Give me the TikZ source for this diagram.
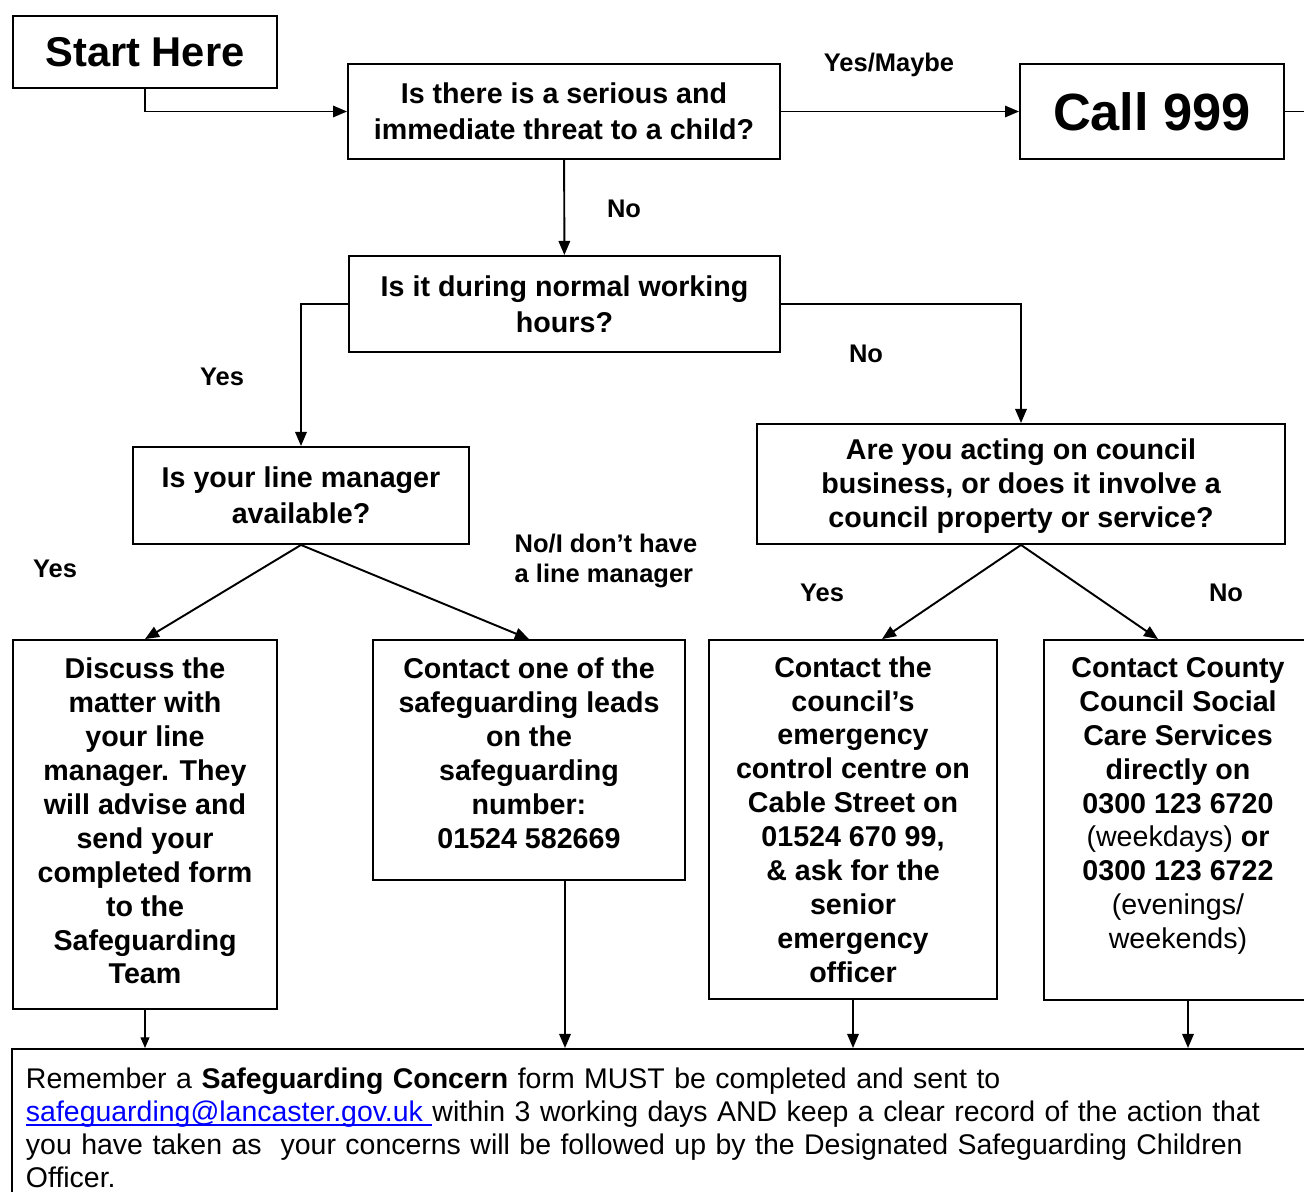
\documentclass[tikz,border=0pt]{standalone}
\usepackage{fontspec}
\setmainfont{Liberation Sans}
\usetikzlibrary{arrows.meta,calc}
\newcommand{\linkline}[1]{\setbox0\hbox{#1}\rlap{\rule[-2.4pt]{\wd0}{0.8pt}}\box0}

\begin{document}
\begin{tikzpicture}[->,>={Triangle[length=8pt,width=6.5pt]},x=0.02cm,y=-0.02cm,line width=1.1pt,
    box/.style={shape=rectangle,draw=black,align=center,inner sep=0pt,font=\fontsize{16.3}{19.3}\selectfont\bfseries},
    lbl/.style={font=\fontsize{14.5}{17.6}\selectfont\bfseries,align=left}]
                \useasboundingbox (0, 0) rectangle (1304, 1192);
                \clip (0, 0) rectangle (1304, 1192);
                \node[box,font=\fontsize{23.7}{28}\selectfont\bfseries,minimum width=5.28cm,minimum height=1.44cm](Start)at(145, 52){Start Here};
                \node[box,font=\fontsize{16.3}{20.4}\selectfont\bfseries,minimum width=8.64cm,minimum height=1.9cm](1)at(564, 111.5){Is there is a serious and\\immediate threat to a child?};
                \node[box,font=\fontsize{29.8}{34}\selectfont\bfseries,minimum width=5.28cm,minimum height=1.9cm](Call)at(1152, 111.5){Call 999};
                \node[box,font=\fontsize{16.3}{20.4}\selectfont\bfseries,minimum width=8.62cm,minimum height=1.92cm](2)at(564.5, 304){Is it during normal working\\hours?};
                \node[box,font=\fontsize{16.3}{20.4}\selectfont\bfseries,minimum width=6.72cm,minimum height=1.94cm](3)at(301, 495.5){Is your line manager\\available?};
                \node[box,font=\fontsize{16.3}{19.6}\selectfont\bfseries,minimum width=10.56cm,minimum height=2.4cm](4)at(1021, 484){\rule{0pt}{0.5cm}Are you acting on council\\business, or does it involve a\\council property or service?};
                \draw (Start.south) |- (1.west);
                \path[] (1) edge (Call)
                (1) edge (2);
                \draw (2.west) -| (3.north);
                \draw (2.east) -| (4.north);
                \coordinate (out) at (1330, 111.5);
                \draw[-] (Call) -- (out);

                \node[lbl](ym)at(889, 65){Yes/Maybe};
                \node[lbl](no1)at(624, 209){No};
                \node[lbl](yes2)at(222, 377){Yes};
                \node[lbl](no2)at(866, 354){No};
                \node[lbl](yes3)at(55, 569){Yes};
                \node[lbl,font=\fontsize{14.5}{17.6}\selectfont\bfseries](no3)at(606, 561){No/I don’t have\\a line manager};
                \node[lbl](yes4)at(822, 593){Yes};
                \node[lbl](no4)at(1226, 593){No};

                \node[box,minimum width=5.28cm,minimum height=7.38cm](5)at(145, 824.5){Discuss the\\matter with\\your line\\manager. They\\will advise and\\send your\\completed form\\to the\\Safeguarding\\Team\rule[-0.14cm]{0pt}{0pt}};
                \node[box,minimum width=6.24cm,minimum height=4.8cm](6)at(529, 760){Contact one of the\\safeguarding leads\\on the\\safeguarding\\number:\\01524 582669\rule[-0.28cm]{0pt}{0pt}};
                \node[box,minimum width=5.76cm,minimum height=7.18cm](7)at(853, 819.5){Contact the\\council’s\\emergency\\control centre on\\Cable Street on\\01524 670 99,\\\& ask for the\\senior\\emergency\\officer};
                \node[box,minimum width=5.36cm,minimum height=7.2cm](8)at(1178, 820){Contact County\\Council Social\\Care Services\\directly on\\0300 123 6720\\\textmd{(weekdays)} or\\0300 123 6722\\\textmd{(evenings/}\\\textmd{weekends)}\rule[-0.68cm]{0pt}{0pt}};
                \path[] (3.south) edge (5.north)
                (3.south) edge (6.north)
                (4.south) edge ($(7.north)+(29, 0)$)
                (4.south) edge ($(8.north)+(-20, 0)$);

                \node[shape=rectangle,draw=black,anchor=north west,align=left,text width=25.8cm,inner xsep=0.28cm,inner ysep=0.38cm,font=\fontsize{16.2}{18.7}\selectfont](9)at(11, 1048){Remember a \textbf{Safeguarding Concern} form MUST be completed and sent to\\\textcolor{blue}{\linkline{safeguarding@lancaster.gov.uk\ }}within 3 working days AND keep a clear record of the action that\\you have taken as\ \ your concerns will be followed up by the Designated Safeguarding Children\\Officer.};
                \draw[line width=0.6pt,>={Triangle[length=6pt,width=5pt]}] (5.south) -- (5.south |- 9.north);
                \draw ($(6.south)+(36, 0)$) coordinate (a6) -- (a6 |- 9.north);
                \draw (7.south) -- (7.south |- 9.north);
                \draw ($(8.south)+(10, 0)$) coordinate (a8) -- (a8 |- 9.north);
            \end{tikzpicture}
\end{document}
